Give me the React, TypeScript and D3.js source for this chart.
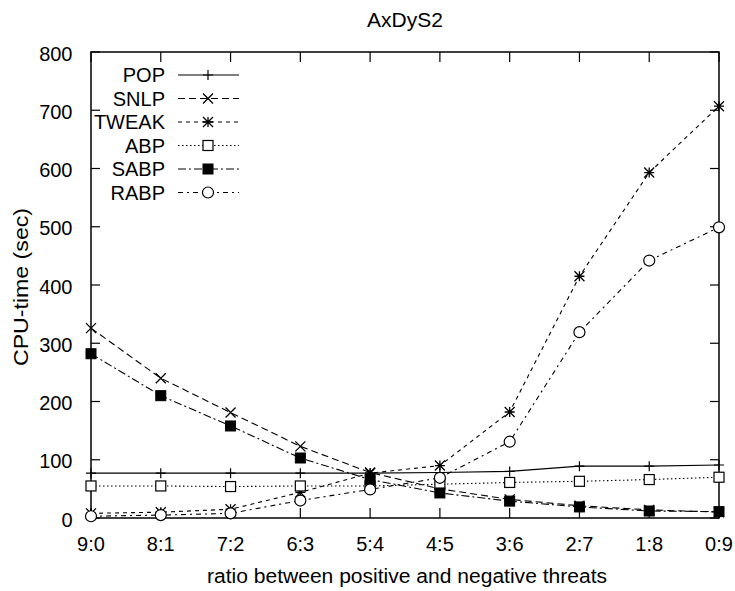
import React from "react";
import * as d3 from "d3";

const categories = ["9:0", "8:1", "7:2", "6:3", "5:4", "4:5", "3:6", "2:7", "1:8", "0:9"];
const yTicks = [0, 100, 200, 300, 400, 500, 600, 700, 800];

const popValues = [77, 77, 77, 77, 77, 78, 80, 89, 89, 91];
const snlpValues = [326, 240, 181, 123, 78, 50, 32, 21, 14, 10];
const tweakValues = [8, 10, 15, 44, 77, 90, 182, 415, 593, 707];
const abpValues = [55, 55, 54, 55, 55, 58, 61, 63, 66, 70];
const sabpValues = [282, 210, 158, 103, 66, 43, 29, 19, 12, 11];
const rabpValues = [3, 5, 8, 30, 49, 69, 131, 319, 442, 499];

const seriesNames = ["POP", "SNLP", "TWEAK", "ABP", "SABP", "RABP"];
const seriesData = [popValues, snlpValues, tweakValues, abpValues, sabpValues, rabpValues];
const dashes = ["none", "7,4", "4,4", "1.5,2.5", "8,3,2,3", "5,4,2,4"];
const markers = ["plus", "cross", "star", "square", "filled", "circle"];

const W = 735, H = 591;
const left = 91, right = 719, top = 52, bottom = 518;
const font = "'Liberation Sans', Arial, sans-serif";

function Marker({ type, x, y }: { type: string; x: number; y: number }) {
  const s = 5;
  if (type === "plus")
    return <path d={`M${x},${y - s}V${y + s}M${x - s},${y}H${x + s}`} stroke="#000" strokeWidth={1.2} fill="none" />;
  if (type === "cross")
    return <path d={`M${x - s},${y - s}L${x + s},${y + s}M${x - s},${y + s}L${x + s},${y - s}`} stroke="#000" strokeWidth={1.3} fill="none" />;
  if (type === "star")
    return <path d={`M${x - s},${y - s}L${x + s},${y + s}M${x - s},${y + s}L${x + s},${y - s}M${x},${y - s}V${y + s}M${x - s},${y}H${x + s}`} stroke="#000" strokeWidth={1.3} fill="none" />;
  if (type === "square")
    return <rect x={x - s} y={y - s} width={2 * s} height={2 * s} fill="#fff" stroke="#000" strokeWidth={1.2} />;
  if (type === "filled")
    return <rect x={x - s} y={y - s} width={2 * s} height={2 * s} fill="#000" stroke="#000" strokeWidth={1} />;
  return <circle cx={x} cy={y} r={s + 0.5} fill="#fff" stroke="#000" strokeWidth={1.2} />;
}

export default function App() {
  const x = d3.scalePoint<string>().domain(categories).range([left, right]);
  const y = d3.scaleLinear().domain([0, 800]).range([bottom, top]);
  const line = d3.line<number>().x((_, i) => x(categories[i])!).y((d) => y(d));

  const legendY0 = 75, legendStep = 23.5;

  return (
    <svg width={W} height={H} style={{ position: "absolute", left: 0, top: 0, background: "#fff" }} fontFamily={font}>
      <rect width={W} height={H} fill="#fff" />
      <text x={405} y={27} textAnchor="middle" fontSize={21}>AxDyS2</text>
      {/* ticks */}
      {yTicks.map((t) => (
        <g key={"y" + t}>
          <line x1={left} x2={left + 9} y1={y(t)} y2={y(t)} stroke="#000" strokeWidth={1.2} />
          <line x1={right} x2={right - 9} y1={y(t)} y2={y(t)} stroke="#000" strokeWidth={1.2} />
          <text x={72.5} y={y(t) + 8.5} textAnchor="end" fontSize={20}>{t}</text>
        </g>
      ))}
      {categories.map((c) => (
        <g key={"x" + c}>
          <line x1={x(c)} x2={x(c)} y1={bottom} y2={bottom - 10} stroke="#000" strokeWidth={1.2} />
          <line x1={x(c)} x2={x(c)} y1={top} y2={top + 10} stroke="#000" strokeWidth={1.2} />
          <text x={x(c)} y={551} textAnchor="middle" fontSize={20}>{c}</text>
        </g>
      ))}
      <rect x={left} y={top} width={right - left} height={bottom - top} fill="none" stroke="#000" strokeWidth={1.5} />
      <text x={407} y={583} textAnchor="middle" fontSize={20} textLength={400} lengthAdjust="spacingAndGlyphs">ratio between positive and negative threats</text>
      <text transform={`translate(28,${287}) rotate(-90)`} textAnchor="middle" fontSize={20} textLength={158} lengthAdjust="spacingAndGlyphs">CPU-time (sec)</text>
      {/* series */}
      {seriesData.map((vals, si) => (
        <g key={seriesNames[si]}>
          <path d={line(vals)!} fill="none" stroke="#000" strokeWidth={1.1} strokeDasharray={dashes[si]} />
          {vals.map((v, i) => (
            <Marker key={i} type={markers[si]} x={x(categories[i])!} y={y(v)} />
          ))}
        </g>
      ))}
      {/* legend */}
      {seriesNames.map((n, si) => {
        const ly = legendY0 + si * legendStep;
        return (
          <g key={"leg" + n}>
            <text x={165} y={ly + 7} textAnchor="end" fontSize={20}>{n}</text>
            <line x1={178} x2={239} y1={ly} y2={ly} stroke="#000" strokeWidth={1.1} strokeDasharray={dashes[si]} />
            <Marker type={markers[si]} x={208} y={ly} />
          </g>
        );
      })}
    </svg>
  );
}
